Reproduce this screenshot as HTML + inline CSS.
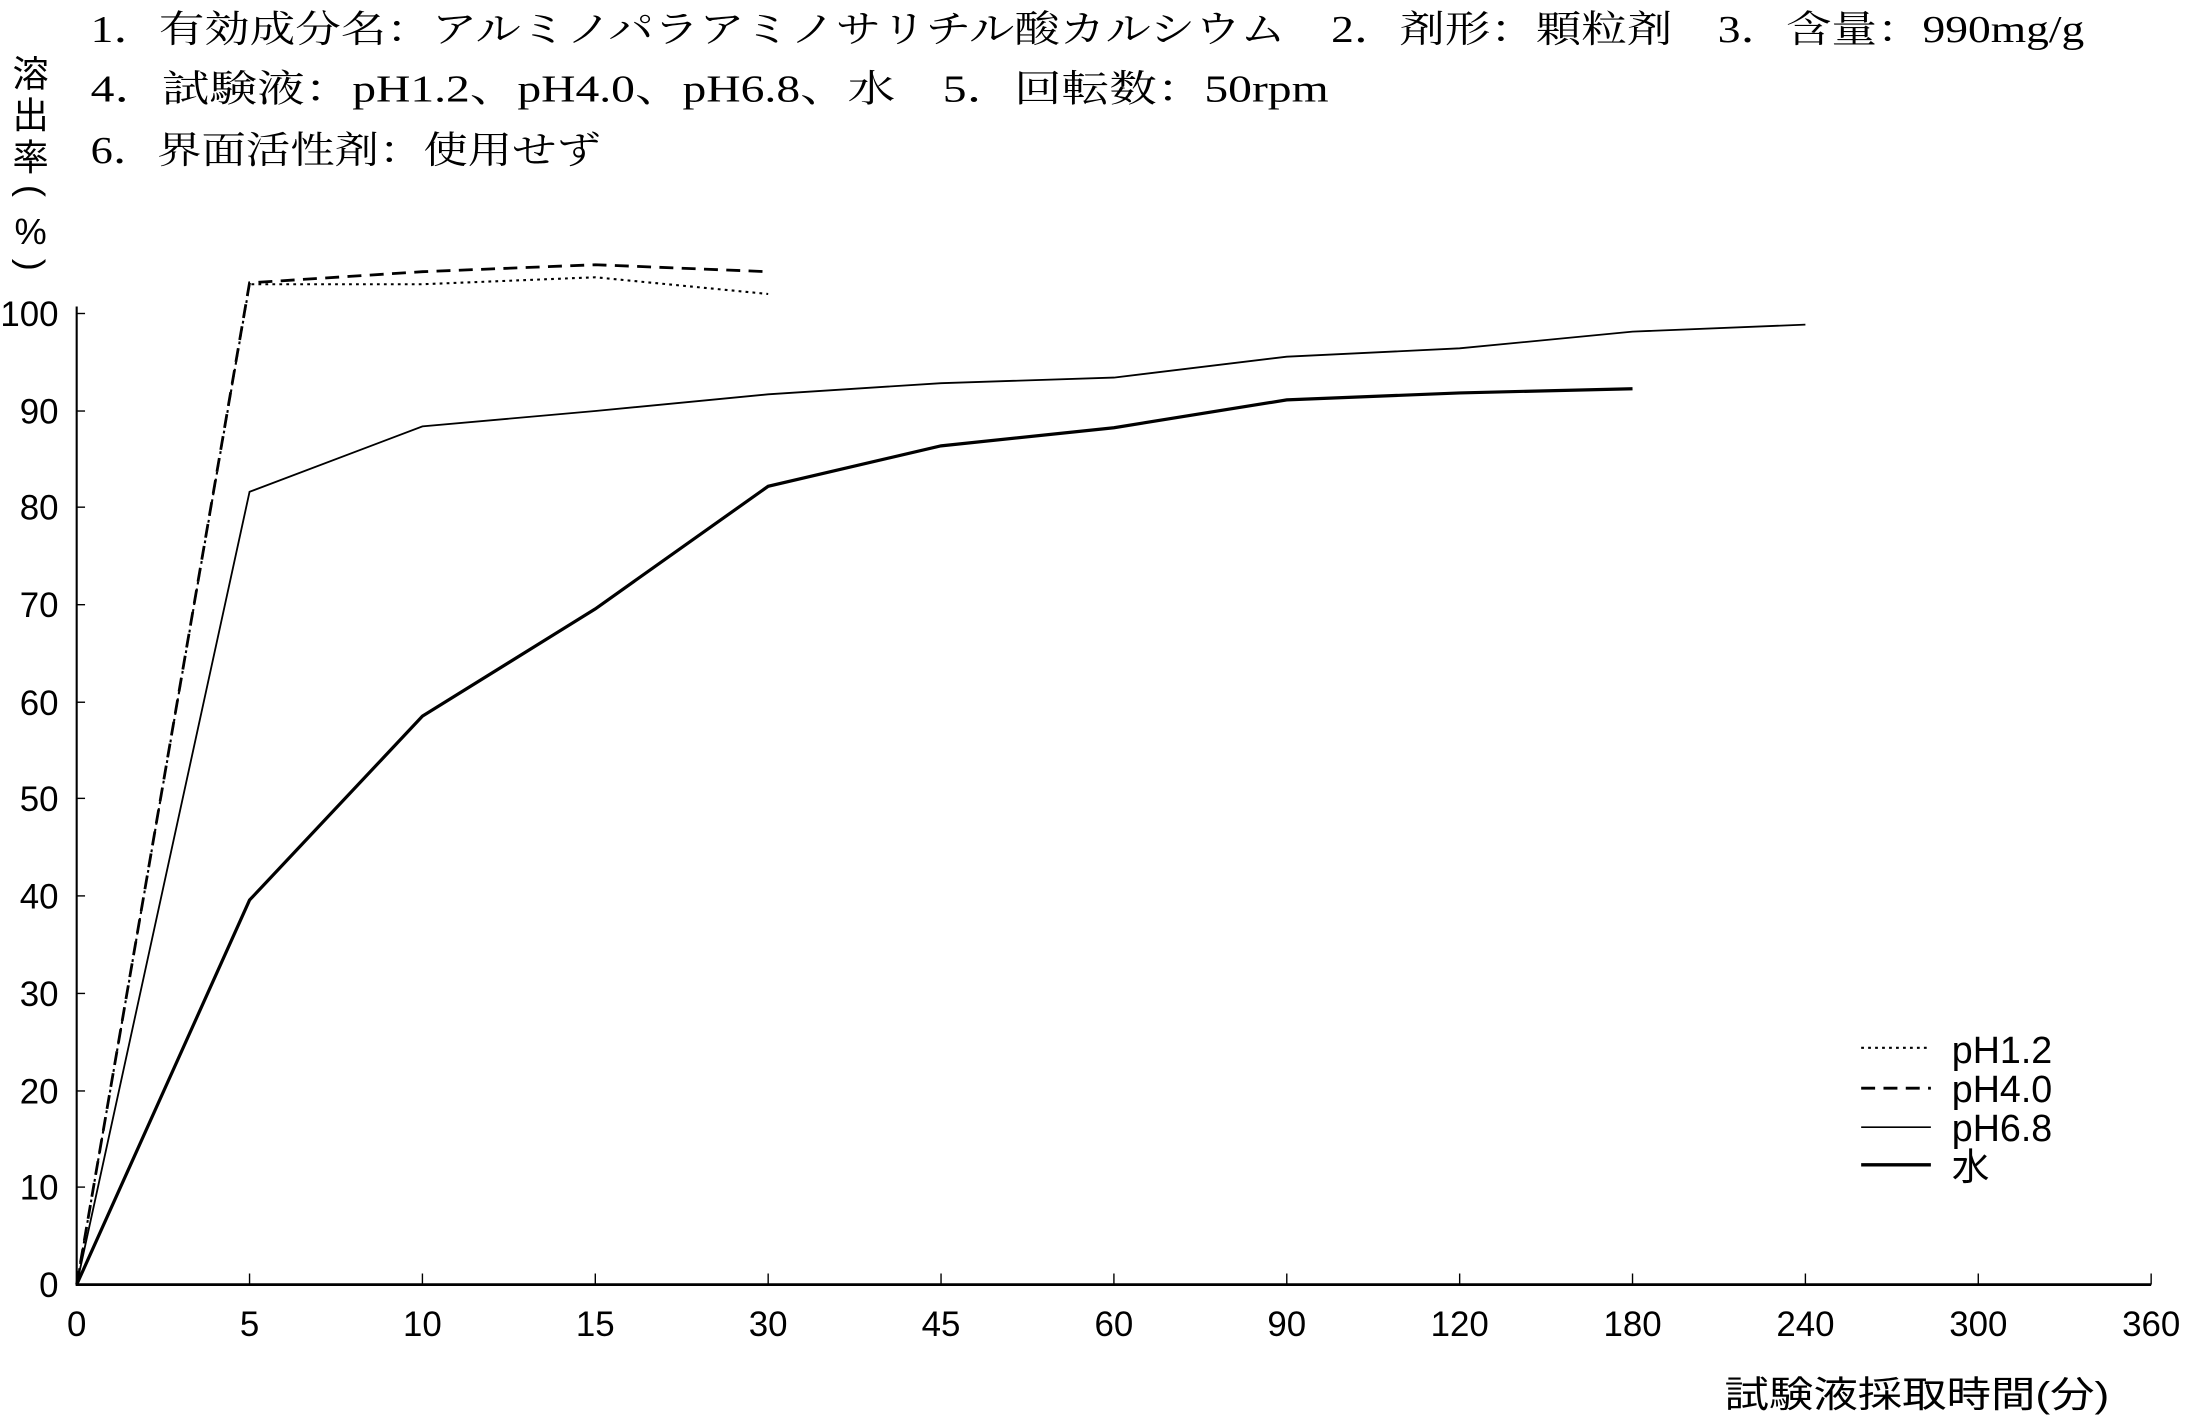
<!DOCTYPE html>
<html><head><meta charset="utf-8"><style>
html,body{margin:0;padding:0;background:#fff;}
svg{display:block;}
text{font-family:"Liberation Serif","Noto Serif CJK SC","Noto Sans CJK JP",serif;fill:#000;}
.t text{font-family:"Liberation Sans","Noto Sans CJK JP",sans-serif;}
</style></head><body>
<svg width="2186" height="1417" viewBox="0 0 1568 1017" preserveAspectRatio="none" xmlns="http://www.w3.org/2000/svg">
<text x="65" y="30" font-size="27" textLength="1430" lengthAdjust="spacingAndGlyphs">1．有効成分名：アルミノパラアミノサリチル酸カルシウム　2．剤形：顆粒剤　3．含量：990mg/g</text>
<text x="65" y="73" font-size="27" textLength="888" lengthAdjust="spacingAndGlyphs">4．試験液：pH1.2、pH4.0、pH6.8、水　5．回転数：50rpm</text>
<text x="65" y="117" font-size="27" textLength="366" lengthAdjust="spacingAndGlyphs">6．界面活性剤：使用せず</text>
<g class="t" font-size="26">
<text x="22" y="62" text-anchor="middle">溶</text>
<text x="22" y="92" text-anchor="middle">出</text>
<text x="22" y="122" text-anchor="middle">率</text>
<text x="22" y="145" text-anchor="middle" transform="rotate(90 22 137)">(</text>
<text x="22" y="175" text-anchor="middle">%</text>
<text x="22" y="198" text-anchor="middle" transform="rotate(90 22 190)">)</text>
</g>
<g stroke="#000" fill="none">
<line x1="55" y1="220" x2="55" y2="923" stroke-width="1.5"/>
<line x1="55" y1="922" x2="1543" y2="922" stroke-width="2"/>
<g stroke-width="1">
<line x1="55" y1="225" x2="61" y2="225"/><line x1="55" y1="295" x2="61" y2="295"/><line x1="55" y1="364" x2="61" y2="364"/><line x1="55" y1="434" x2="61" y2="434"/><line x1="55" y1="504" x2="61" y2="504"/><line x1="55" y1="573" x2="61" y2="573"/><line x1="55" y1="643" x2="61" y2="643"/><line x1="55" y1="713" x2="61" y2="713"/><line x1="55" y1="783" x2="61" y2="783"/><line x1="55" y1="852" x2="61" y2="852"/>
<line x1="179" y1="922" x2="179" y2="914"/><line x1="303" y1="922" x2="303" y2="914"/><line x1="427" y1="922" x2="427" y2="914"/><line x1="551" y1="922" x2="551" y2="914"/><line x1="675" y1="922" x2="675" y2="914"/><line x1="799" y1="922" x2="799" y2="914"/><line x1="923" y1="922" x2="923" y2="914"/><line x1="1047" y1="922" x2="1047" y2="914"/><line x1="1171" y1="922" x2="1171" y2="914"/><line x1="1295" y1="922" x2="1295" y2="914"/><line x1="1419" y1="922" x2="1419" y2="914"/><line x1="1543" y1="922" x2="1543" y2="914"/>
</g>
<polyline points="55,922 179,204 303,204 427,199 551,211" stroke-width="1.5" stroke-dasharray="2,3"/>
<polyline points="55,922 179,203 303,195 427,190 551,195" stroke-width="2" stroke-dasharray="10,6"/>
<polyline points="55,922 179,353 303,306 427,295 551,283 675,275 799,271 923,256 1047,250 1171,238 1295,233" stroke-width="1.3"/>
<polyline points="55,922 179,646 303,514 427,437 551,349 675,320 799,307 923,287 1047,282 1171,279" stroke-width="2.3"/>
<line x1="1335" y1="752" x2="1385" y2="752" stroke-width="1.5" stroke-dasharray="2,3"/>
<line x1="1335" y1="781" x2="1385" y2="781" stroke-width="2" stroke-dasharray="10,6"/>
<line x1="1335" y1="809" x2="1385" y2="809" stroke-width="1.2"/>
<line x1="1335" y1="836" x2="1385" y2="836" stroke-width="2.5"/>
</g>
<g class="t" font-size="25">
<text x="42" y="234" text-anchor="end">100</text><text x="42" y="304" text-anchor="end">90</text><text x="42" y="373" text-anchor="end">80</text><text x="42" y="443" text-anchor="end">70</text><text x="42" y="513" text-anchor="end">60</text><text x="42" y="582" text-anchor="end">50</text><text x="42" y="652" text-anchor="end">40</text><text x="42" y="722" text-anchor="end">30</text><text x="42" y="792" text-anchor="end">20</text><text x="42" y="861" text-anchor="end">10</text><text x="42" y="931" text-anchor="end">0</text>
<text x="55" y="959" text-anchor="middle">0</text><text x="179" y="959" text-anchor="middle">5</text><text x="303" y="959" text-anchor="middle">10</text><text x="427" y="959" text-anchor="middle">15</text><text x="551" y="959" text-anchor="middle">30</text><text x="675" y="959" text-anchor="middle">45</text><text x="799" y="959" text-anchor="middle">60</text><text x="923" y="959" text-anchor="middle">90</text><text x="1047" y="959" text-anchor="middle">120</text><text x="1171" y="959" text-anchor="middle">180</text><text x="1295" y="959" text-anchor="middle">240</text><text x="1419" y="959" text-anchor="middle">300</text><text x="1543" y="959" text-anchor="middle">360</text>
<text x="1400" y="763" font-size="27">pH1.2</text><text x="1400" y="791" font-size="27">pH4.0</text><text x="1400" y="819" font-size="27">pH6.8</text><text x="1400" y="847" font-size="27">水</text>
<text x="1237" y="1010" font-size="26" textLength="276" lengthAdjust="spacingAndGlyphs">試験液採取時間(分)</text>
</g>
</svg>
</body></html>
